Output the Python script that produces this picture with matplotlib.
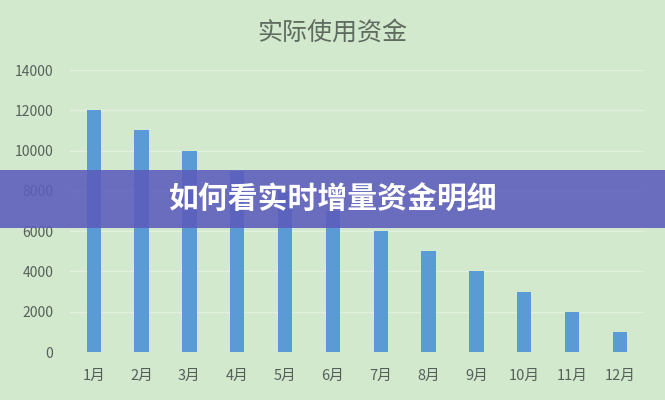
import numpy as np
import matplotlib.pyplot as plt

plt.rcParams['font.family'] = ['Noto Sans CJK SC', 'DejaVu Sans']

months = ['1月', '2月', '3月', '4月', '5月', '6月', '7月', '8月', '9月', '10月', '11月', '12月']
funds = [12000, 11000, 10000, 9000, 8000, 7000, 6000, 5000, 4000, 3000, 2000, 1000]
y_ticks = [0, 2000, 4000, 6000, 8000, 10000, 12000, 14000]

title = '实际使用资金'
banner_text = '如何看实时增量资金明细'

bg = '#d2e9cd'
fig = plt.figure(figsize=(6.65, 4), dpi=100, facecolor=bg)
ax = fig.add_axes([0.105, 0.12, 0.863, 0.705], facecolor=bg)

x = np.arange(len(months))
ax.bar(x, funds, width=0.3, color='#5a9bd6', zorder=2)

ax.set_xlim(-0.5, len(months) - 0.5)
ax.set_ylim(0, 14000)
ax.set_yticks(y_ticks)
ax.set_yticklabels([str(v) for v in y_ticks], fontsize=10, color='#56605a')
ax.set_xticks(x)
ax.set_xticklabels(months, fontsize=10.5, color='#56605a')
ax.tick_params(length=0, pad=12)
ax.tick_params(axis='x', pad=12)
ax.grid(axis='y', color='#e2f0de', lw=1, zorder=1)
for s in ax.spines.values():
    s.set_visible(False)

fig.text(0.5, 0.915, title, ha='center', va='center', fontsize=18, color='#5f6b5f')

# purple banner across the middle
fig.patches.append(plt.Rectangle((0, 0.43), 1, 0.145, transform=fig.transFigure,
                                 facecolor='#5c5cbc', alpha=0.88, zorder=5))
fig.text(0.5, 0.5, banner_text, ha='center', va='center', fontsize=21.5,
         fontweight='black', color='white', zorder=6)

fig.savefig('out.png', dpi=100, facecolor=bg)
